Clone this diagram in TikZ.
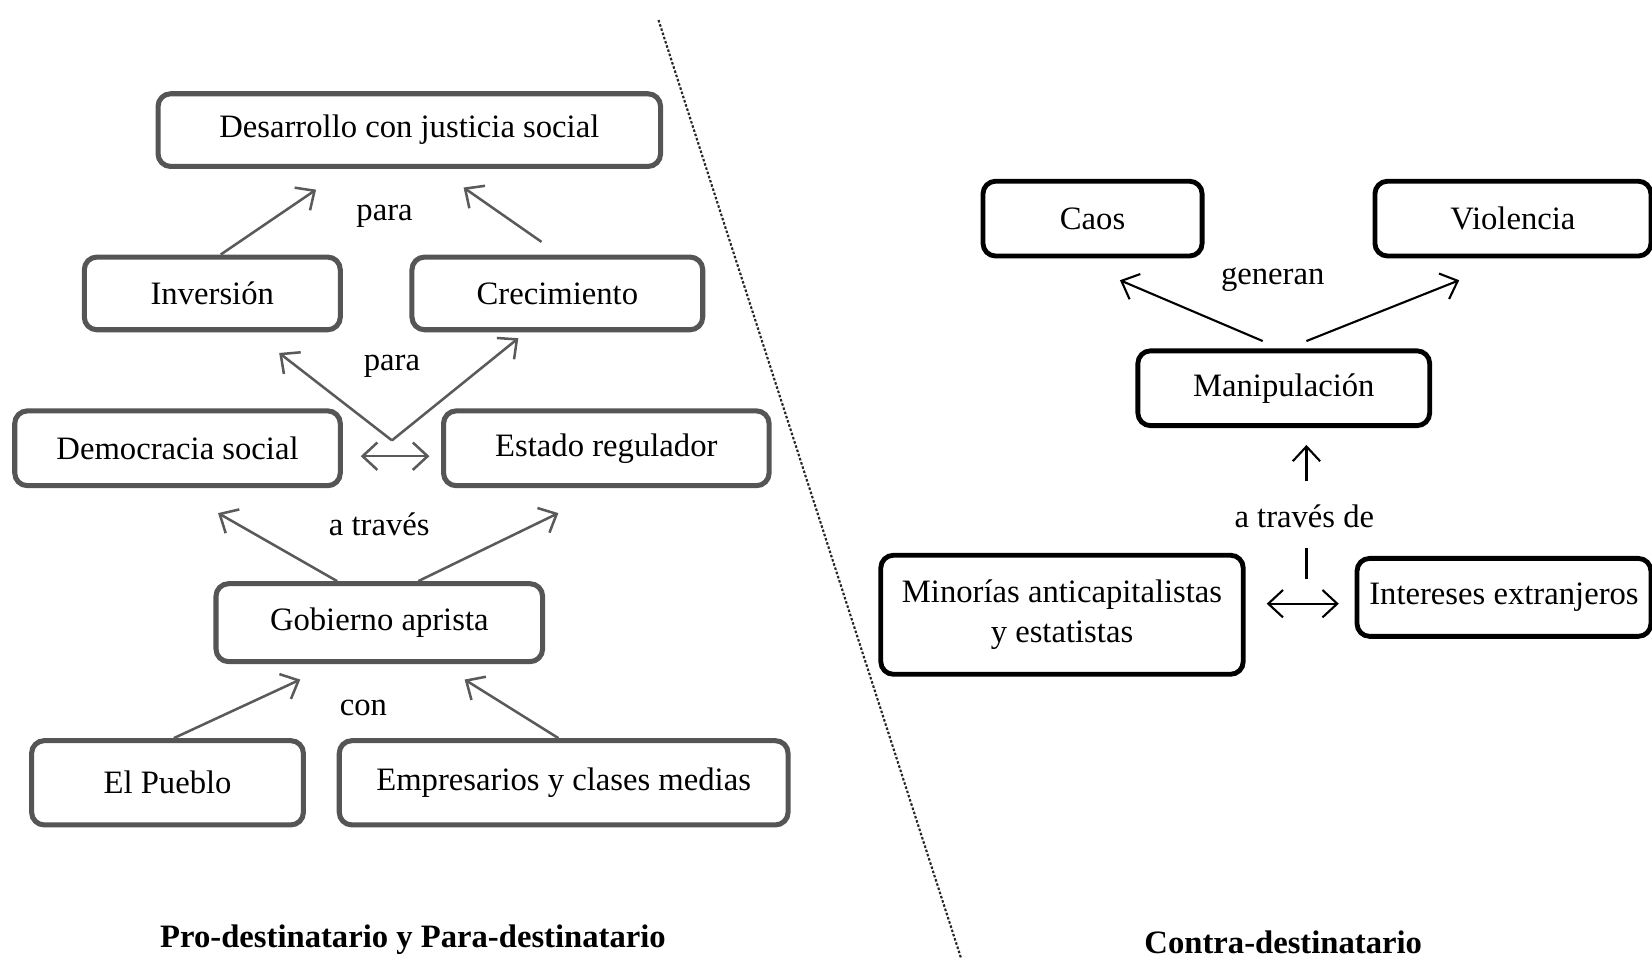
\documentclass[tikz,border=0pt]{standalone}
\usepackage{fontspec}
\setmainfont{Liberation Serif}
\usetikzlibrary{arrows.meta}
\definecolor{boxgray}{HTML}{555555}
\definecolor{arrgray}{HTML}{5A5A5A}
\begin{document}
\begin{tikzpicture}[x=0.5pt,y=-0.5pt,
  every node/.style={font=\fontsize{15.5}{19}\selectfont, text=black},
  lbox/.style={draw=boxgray, line width=2.4pt, rounded corners=6pt, inner sep=0pt, align=center, fill=white},
  rbox/.style={draw=black, line width=2.3pt, rounded corners=6pt, inner sep=0pt, align=center, fill=white},
  larr/.style={draw=arrgray, line width=1.2pt, -{Straight Barb[length=7pt,width=13pt]}},
  lbiarr/.style={draw=arrgray, line width=1.2pt, {Straight Barb[length=7pt,width=13pt]}-{Straight Barb[length=7pt,width=13pt]}},
  rarr/.style={draw=black, line width=1pt, -{Straight Barb[length=7pt,width=13pt]}},
  rbiarr/.style={draw=black, line width=1pt, {Straight Barb[length=7pt,width=13pt]}-{Straight Barb[length=7pt,width=13pt]}},
  lbl/.style={inner sep=1pt},
  ttl/.style={inner sep=1pt, font=\fontsize{15.5}{19}\selectfont\bfseries},
  divider/.style={draw=black!85, line width=1pt, dash pattern=on 1.2pt off 0.9pt}
]
\useasboundingbox (0,0) rectangle (1568,909);

% divider
\coordinate (dtop) at (625,19);
\coordinate (dbot) at (913,912);
\draw[divider] (dtop) -- (dbot);

% left side boxes
\node[lbox, minimum width=238.5pt, minimum height=34.5pt] (des) at (388.5,123.5) {Desarrollo con justicia social};
\node[lbox, minimum width=121.5pt, minimum height=34.5pt] (inv) at (201.5,278.5) {Inversión};
\node[lbox, minimum width=138pt, minimum height=34.5pt] (cre) at (529,278.5) {Crecimiento};
\node[lbox, minimum width=154.5pt, minimum height=35.5pt] (dem) at (168.5,425.5) {Democracia social};
\node[lbox, minimum width=154.5pt, minimum height=35.5pt] (est) at (575.5,425.5) {Estado regulador};
\node[lbox, minimum width=155pt, minimum height=37pt] (gob) at (360,591) {Gobierno aprista};
\node[lbox, minimum width=129pt, minimum height=40pt] (pue) at (159,743) {El Pueblo};
\node[lbox, minimum width=213pt, minimum height=40pt] (emp) at (535,743) {Empresarios y clases medias};

% left labels
\node[lbl] (para1) at (365,205) {para};
\node[lbl] (para2) at (372,348) {para};
\node[lbl] (atr) at (360,498) {a través};
\node[lbl] (con) at (345,672) {con};
\node[ttl] (t1) at (392,892) {Pro-destinatario y Para-destinatario};

% left free arrow ends
\coordinate (e1) at (300,180);
\coordinate (e2) at (440,178);
\coordinate (pj) at (372,418);
\coordinate (e3) at (265,335);
\coordinate (e4) at (492,321);
\coordinate (e5) at (207,487);
\coordinate (e6) at (530,487);
\coordinate (e7) at (285,645);
\coordinate (e8) at (441,645);

\draw[larr] ([xshift=4pt]inv.north) -- (e1);
\draw[larr] ([xshift=-7.5pt,yshift=6pt]cre.north) -- (e2);
\draw[larr] (pj) -- (e3);
\draw[larr] (pj) -- (e4);
\draw[lbiarr] ([xshift=8.5pt,yshift=-3.75pt]dem.east) -- ([xshift=-5.5pt,yshift=-3.75pt]est.west);
\draw[larr] ([xshift=-20pt]gob.north) -- (e5);
\draw[larr] ([xshift=18.5pt]gob.north) -- (e6);
\draw[larr] ([xshift=3pt]pue.north) -- (e7);
\draw[larr] ([xshift=-2.5pt]emp.north) -- (e8);

% right side boxes
\node[rbox, minimum width=104pt, minimum height=35.5pt] (caos) at (1037,207.5) {Caos};
\node[rbox, minimum width=131pt, minimum height=35.5pt] (vio) at (1436,207.5) {Violencia};
\node[rbox, minimum width=138.5pt, minimum height=35.5pt] (man) at (1218.5,368.5) {Manipulación};
\node[rbox, minimum width=172pt, minimum height=56.5pt] (min) at (1008,583.5) {Minorías anticapitalistas\\y estatistas};
\node[rbox, minimum width=139.5pt, minimum height=37pt] (int) at (1427.5,567) {Intereses extranjeros};

% right labels
\node[lbl] (gen) at (1208,265) {generan};
\node[lbl] (atrd) at (1238,490) {a través de};
\node[ttl] (t2) at (1218,894) {Contra-destinatario};

% right free ends
\coordinate (r1) at (1063,266);
\coordinate (r2) at (1385,266);
\coordinate (u1) at (1240,457);
\coordinate (v1) at (1240,520);
\coordinate (v2) at (1240,550);

\draw[rarr] ([xshift=-10pt,yshift=3.5pt]man.north) -- (r1);
\draw[rarr] ([xshift=10.75pt,yshift=3.5pt]man.north) -- (r2);
\draw[rarr] (u1) -- ([xshift=10.75pt,yshift=-8pt]man.south);
\draw[draw=black, line width=1pt] (v1) -- (v2);
\draw[rbiarr] ([xshift=10pt,yshift=5.25pt]min.east) -- ([xshift=-7.5pt,yshift=-3pt]int.west);
\end{tikzpicture}
\end{document}
